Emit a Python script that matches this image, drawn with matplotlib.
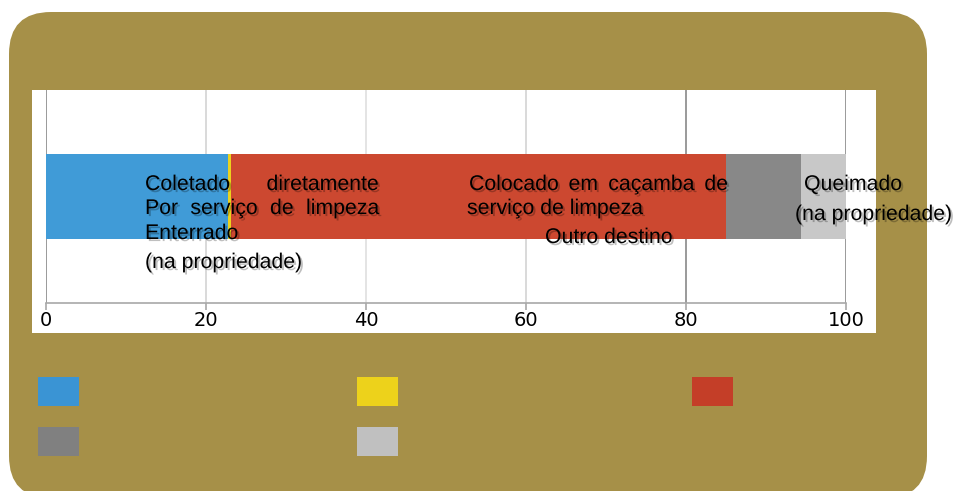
import matplotlib
matplotlib.use('Agg')
import matplotlib.pyplot as plt
from matplotlib.patches import FancyBboxPatch, Rectangle
import matplotlib.patheffects as pe

# ---- data ----
series = ['Coletado diretamente por serviço de limpeza', 'Enterrado (na propriedade)',
          'Colocado em caçamba de serviço de limpeza', 'Outro destino', 'Queimado (na propriedade)']
values = [22.7, 0.4, 61.9, 9.4, 5.6]
bar_colors = ['#409BD7', '#EBD21E', '#CC4830', '#888888', '#C8C8C8']
legend_colors = ['#3A94D4', '#EDD21B', '#C43E28', '#808080', '#C0C0C0']
xticks = [0, 20, 40, 60, 80, 100]

W, H = 956, 491
fig = plt.figure(figsize=(W / 100, H / 100), dpi=100)
fig.patch.set_facecolor('white')

bg = fig.add_axes([0, 0, 1, 1])
bg.set_xlim(0, W)
bg.set_ylim(H, 0)
bg.axis('off')
bg.add_patch(FancyBboxPatch((9, 12), 918, 486, boxstyle='round,pad=0,rounding_size=42',
                            fc='#A69048', ec='none'))
bg.add_patch(Rectangle((32, 90), 844, 243, fc='white', ec='none'))

# legend swatches (no text)
col_x = [38, 357, 692]
row_y = [377, 427]
for i, c in enumerate(legend_colors):
    r, k = divmod(i, 3)
    bg.add_patch(Rectangle((col_x[k], row_y[r]), 41, 29, fc=c, ec='none'))

# ---- main axes ----
ax = fig.add_axes([46 / W, (H - 303) / H, 800 / W, 213 / H])
ax.set_facecolor('none')
ax.set_xlim(0, 100)
ax.set_ylim(-1, 1)

grid_cols = {0: '#9a9a9a', 20: '#cfcfcf', 40: '#dddddd', 60: '#cfcfcf', 80: '#9a9a9a', 100: '#9a9a9a'}
for t in xticks:
    ax.axvline(t, color=grid_cols[t], lw=1.4 if t in (0, 80, 100) else 1.1, zorder=0.5)

left = 0
for v, c in zip(values, bar_colors):
    ax.barh(0, v, left=left, height=0.8, color=c, edgecolor='none', zorder=1)
    left += v

for s in ['top', 'right', 'left']:
    ax.spines[s].set_visible(False)
ax.spines['bottom'].set_color('#a8a8a8')
ax.spines['bottom'].set_linewidth(1.2)
ax.set_yticks([])
ax.set_xticks(xticks)
ax.set_xticklabels([str(t) for t in xticks], fontfamily='DejaVu Sans', fontsize=14)
ax.tick_params(axis='x', length=5, color='#a8a8a8', width=1.2, pad=1, labelcolor='black')

# ---- overlaid labels ----
fp = dict(fontfamily='Liberation Sans', fontsize=15.3, color='black')
shadow = [pe.withSimplePatchShadow(offset=(1.5, -1.5), shadow_rgbFace='black', alpha=0.25)]
renderer = fig.canvas.get_renderer()


def line(text, x0, y, x1=None):
    words = text.split(' ')
    if x1 is None or len(words) == 1:
        ax.text(x0, y, text, transform=bg.transData, ha='left', va='baseline',
                path_effects=shadow, **fp)
        return
    objs = [ax.text(0, y, w, transform=bg.transData, ha='left', va='baseline',
                    path_effects=shadow, **fp) for w in words]
    widths = [o.get_window_extent(renderer).width for o in objs]
    gap = (x1 - x0 - sum(widths)) / (len(words) - 1)
    x = x0
    for o, w in zip(objs, widths):
        o.set_x(x)
        x += w + gap


line('Coletado diretamente', 145, 190, 379)
line('Por serviço de limpeza', 145, 214, 379)
line('Enterrado', 145, 239)
line('(na propriedade)', 145, 268)
line('Colocado em caçamba de', 469, 190, 728)
line('serviço de limpeza', 467, 214)
line('Outro destino', 545, 243)
line('Queimado', 804, 190)
line('(na propriedade)', 795, 220)

fig.savefig('out.png', dpi=100)
